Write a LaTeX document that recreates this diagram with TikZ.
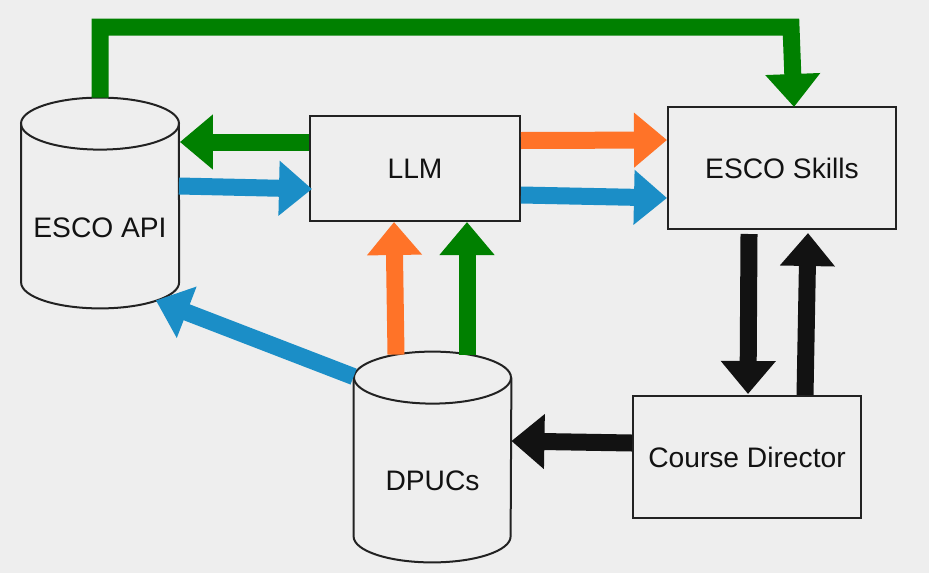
\documentclass[tikz,border=0pt]{standalone}
\usepackage{fontspec}
\setmainfont{Liberation Sans}
\usepackage{tikz}
\usetikzlibrary{positioning, calc, arrows.meta}

\definecolor{bgcol}{HTML}{EEEEEE}
\definecolor{edgecol}{HTML}{222222}
\definecolor{flowgreen}{HTML}{008000}
\definecolor{floworange}{HTML}{FF7328}
\definecolor{flowblue}{HTML}{1B8EC7}
\definecolor{flowblack}{HTML}{121212}

\begin{document}
\begin{tikzpicture}[x=0.5pt, y=-0.5pt,
        box/.style={draw=edgecol, line width=1pt, fill=bgcol, minimum width=#1},
        dbbody/.style={minimum width=78.5pt, minimum height=105pt, inner sep=0pt},
        dbline/.style={draw=edgecol, line width=1pt},
        lbl/.style={text=flowblack, font=\fontsize{14.1}{17}\selectfont},
        flow/.style={line width=8.5pt, line join=miter, -{Triangle[width=26.5pt, length=16.5pt]}}]
        \fill[bgcol] (0,0) rectangle (929,573);   %background
        \useasboundingbox (0,0) rectangle (929,573);

        % blocks
        \node[box=105pt, minimum height=52.5pt, lbl] (llm) at (415,168.5) {LLM};
        \node[box=114pt, minimum height=61pt, lbl] (skills) at (782,168) {ESCO Skills};
        \node[box=114pt, minimum height=61pt, lbl] (cd) at (747,457) {Course Director};

        % data stores
        \node[dbbody] (api) at (100,203) {};
        \node[dbbody] (dpuc) at (432.5,457) {};
        \node[lbl] (apilbl) at ($(api.center)+(0,25)$) {ESCO API};
        \node[lbl] (dpuclbl) at ($(dpuc.center)+(0,24)$) {DPUCs};

        \draw[dbline] ($(api.north)+(0,26)$) ellipse [x radius=39.5pt, y radius=13pt];   %top
        \draw[dbline] ($(api.north west)+(0,26)$) -- ($(api.south west)+(0,-26)$)
            arc [start angle=180, end angle=360, x radius=39.5pt, y radius=13pt]
            -- ($(api.north east)+(0,26)$);
        \draw[dbline] ($(dpuc.north)+(0,26)$) ellipse [x radius=39.25pt, y radius=13pt];   %top
        \draw[dbline] ($(dpuc.north west)+(0,26)$) -- ($(dpuc.south west)+(0,-26)$)
            arc [start angle=180, end angle=360, x radius=39.25pt, y radius=13pt]
            -- ($(dpuc.north east)+(0,26)$);

        % flows
        \draw[flow, flowgreen] (api.north) |- ($(skills.north)+(9,-79)$) -- ($(skills.north)+(12,1)$);
        \draw[flow, flowgreen] ($(llm.west)+(0,-26.5)$) -- ($(api.east)+(1,-61)$);
        \draw[flow, flowblue] ($(api.east)+(0,-17)$) -- ($(llm.west)+(3,20.5)$);
        \draw[flow, floworange] ($(llm.east)+(0,-28)$) -- ($(skills.west)+(0,-28)$);
        \draw[flow, flowblue] ($(llm.east)+(0,26.5)$) -- ($(skills.west)+(0,30)$);
        \draw[flow, floworange] ($(dpuc.north)+(-36.5,3)$) -- ($(llm.south)+(-21,0)$);
        \draw[flow, flowgreen] ($(dpuc.north)+(34.5,3)$) -- ($(llm.south)+(52,0)$);
        \draw[flow, flowblue] ($(dpuc.north west)+(0,25)$) -- ($(api.south east)+(-23,-8)$);
        \draw[flow, flowblack] ($(skills.south)+(-33,4)$) -- ($(cd.north)+(1,-1)$);
        \draw[flow, flowblack] ($(cd.north)+(58,0)$) -- ($(skills.south)+(26,3)$);
        \draw[flow, flowblack] ($(cd.west)+(0,-14)$) -- ($(dpuc.east)+(0,-16)$);
\end{tikzpicture}
\end{document}
